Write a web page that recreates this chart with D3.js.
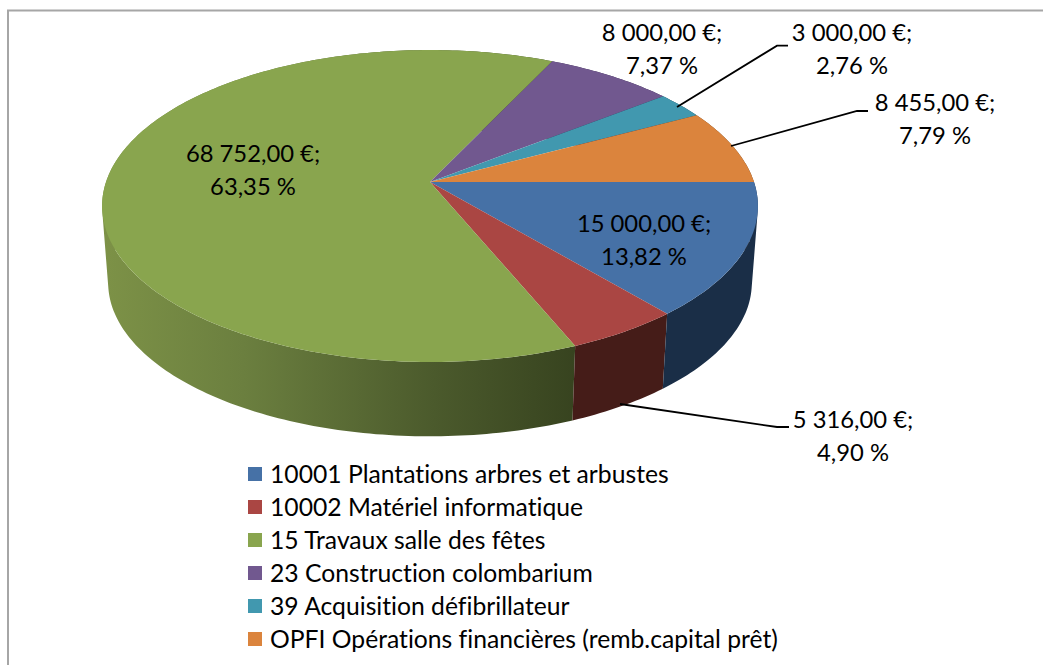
<!DOCTYPE html>
<meta charset="utf-8" />
<title>Répartition des investissements</title>
<style>
  html, body { margin: 0; background: #fff; }
  svg { display: block; }
  text { font-family: Lato, "Open Sans", sans-serif; fill: #000; font-variant-ligatures: none; }
  .leader { fill: none; stroke: #000; stroke-width: 1.8px; }
  .frame { fill: none; stroke: #a6a6a6; stroke-width: 2px; }
</style>
<body>
<svg width="1043" height="665"></svg>
<script src="https://d3js.org/d3.v7.min.js"></script>
<script>
  // Data
  const categories = [
    "10001 Plantations arbres et arbustes",
    "10002 Matériel informatique",
    "15 Travaux salle des fêtes",
    "23 Construction colombarium",
    "39 Acquisition défibrillateur",
    "OPFI Opérations financières (remb.capital prêt)"
  ];
  const amounts = [15000, 5316, 68752, 8000, 3000, 8455];
  const colors = ["#4671a6", "#aa4643", "#89a54e", "#71588f", "#4198af", "#db843d"];
  const wallColors = ["#1a2e47", "#451c18", "url(#greenWall)", "#33264a", "#1c4350", "#5f3a1a"];

  const width = 1043, height = 665;
  const svg = d3.select("svg");

  // Label layout: centre x, first baseline
  const labelPos = [[644, 232], [853, 428], [253, 162], [662, 41], [852, 41], [935, 111]];
  const lineGap = 32.5;
  // Leader lines, by slice index
  const leaders = [
    { slice: 1, pts: [[620, 404], [777, 427], [789, 427]] },
    { slice: 4, pts: [[677, 107], [777, 45.7], [788, 45.7]] },
    { slice: 5, pts: [[731, 146], [857, 111], [868, 111]] }
  ];

  // Perspective projection of the pie disc
  const persp = 0.154;
  const topFace = { cx: 430, cy: 182, rx: 324, ry: 152.3 };
  const botFace = { cx: 430, cy: 259, rx: 318, ry: 150 };

  function project(face, a) {
    // a is a d3.pie angle: clockwise from 12 o'clock
    const x = Math.sin(a), y = -Math.cos(a);
    const d = 1 - persp * y;
    return [face.cx + face.rx * x / d, face.cy + face.ry * y / d];
  }

  const total = d3.sum(amounts);
  const fr = d3.formatLocale({ decimal: ",", thousands: " ", grouping: [3], currency: ["", " €"] });
  const fmtMoney = fr.format(",.2f");
  const fmtPct = fr.format(".2f");

  const arcs = d3.pie().sort(null)
    .startAngle(Math.PI / 2)
    .endAngle(Math.PI / 2 + 2 * Math.PI)(amounts);

  function arcAngles(d) {
    const n = Math.max(2, Math.ceil((d.endAngle - d.startAngle) / (Math.PI / 180)));
    return d3.range(n + 1).map(i => d.startAngle + (d.endAngle - d.startAngle) * i / n);
  }

  // Wall of one slice: a quad per degree, all wound the same way so the
  // nonzero fill merges them with no seams
  function wallPath(d) {
    return d3.pairs(arcAngles(d)).map(([a0, a1]) => {
      const quad = [project(topFace, a0), project(topFace, a1), project(botFace, a1), project(botFace, a0)];
      if (d3.polygonArea(quad) < 0) quad.reverse();
      return d3.line()(quad) + "Z";
    }).join("");
  }

  // Frame: top and left lines only, the rest is cropped in the original
  svg.append("path").attr("class", "frame")
    .attr("d", d3.line()([[8, height], [8, 10.5], [width, 10.5]]));

  const grad = svg.append("defs").append("linearGradient")
    .attr("id", "greenWall")
    .attr("gradientUnits", "userSpaceOnUse")
    .attr("x1", 101).attr("x2", 577).attr("y1", 0).attr("y2", 0);
  grad.selectAll("stop")
    .data([[0, "#7d9247"], [0.3, "#6b7f3f"], [0.7, "#4b5a2c"], [1, "#37431f"]])
    .join("stop")
    .attr("offset", d => d[0])
    .attr("stop-color", d => d[1]);

  // Side walls, back slices first
  svg.append("g").selectAll("path")
    .data(arcs.slice().reverse())
    .join("path")
    .attr("fill", d => wallColors[d.index])
    .attr("d", wallPath);

  // Top face
  svg.append("g").selectAll("path")
    .data(arcs)
    .join("path")
    .attr("fill", d => colors[d.index])
    .attr("d", d => d3.line()([[topFace.cx, topFace.cy], ...arcAngles(d).map(a => project(topFace, a))]) + "Z");

  // Leader lines
  svg.append("g").selectAll("path")
    .data(leaders)
    .join("path")
    .attr("class", "leader")
    .attr("d", d => d3.line()(d.pts));

  // Data labels
  const labels = svg.append("g").selectAll("text")
    .data(arcs)
    .join("text")
    .attr("text-anchor", "middle")
    .style("font-size", "23.8px");
  labels.append("tspan")
    .attr("x", d => labelPos[d.index][0])
    .attr("y", d => labelPos[d.index][1])
    .text(d => fmtMoney(d.value) + " €;");
  labels.append("tspan")
    .attr("x", d => labelPos[d.index][0])
    .attr("y", d => labelPos[d.index][1] + lineGap)
    .text(d => fmtPct(d.value / total * 100) + " %");

  // Legend
  const legendY = d3.scaleBand().domain(d3.range(categories.length)).range([457, 655]);
  const legend = svg.append("g").selectAll("g")
    .data(categories)
    .join("g")
    .attr("transform", (d, i) => `translate(248,${legendY(i)})`);
  legend.append("rect")
    .attr("y", 10).attr("width", 14).attr("height", 14)
    .attr("fill", (d, i) => colors[i]);
  legend.append("text")
    .attr("x", 22).attr("y", 25.5)
    .style("font-size", "24.7px")
    .text(d => d);
</script>
</body>
